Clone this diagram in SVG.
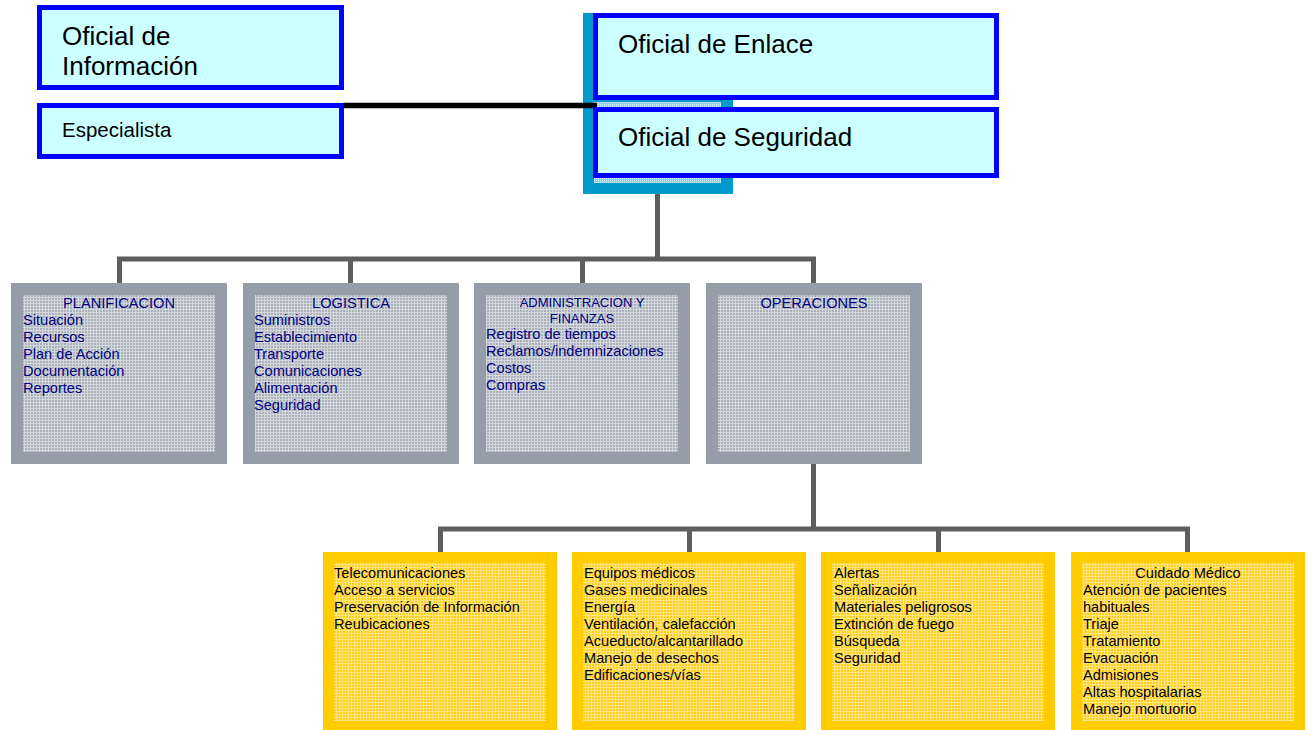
<svg xmlns="http://www.w3.org/2000/svg" width="1308" height="730" viewBox="0 0 1308 730">
<defs>
<pattern id="pg" width="3" height="3" patternUnits="userSpaceOnUse">
<rect width="3" height="3" fill="#A9B1BA"/>
<rect width="3" height="1" fill="#D4D8DD"/>
<rect width="1" height="3" fill="#D4D8DD"/>
</pattern>
<pattern id="py" width="3" height="3" patternUnits="userSpaceOnUse">
<rect width="3" height="3" fill="#FFD01A"/>
<rect width="3" height="1" fill="#FFE584"/>
<rect width="1" height="3" fill="#FFE584"/>
</pattern>
<pattern id="pc" width="2" height="2" patternUnits="userSpaceOnUse">
<rect width="2" height="2" fill="#8FD3EA"/>
<rect width="1" height="1" fill="#D6F2FA"/>
</pattern>
</defs>
<style>
text{font-family:"Liberation Sans",Arial,sans-serif}
.bx{fill:#CCFFFF;stroke:#0000FF;stroke-width:5}
.big{font-size:26px;fill:#000}
.gout{fill:#959EA8}
.gin{fill:url(#pg)}
.yout{fill:#FFCC00}
.yin{fill:url(#py)}
.gt{font-size:14.6px;fill:#000080}
.yt{font-size:14.6px;fill:#000}
.mid{text-anchor:middle}
.con{fill:none;stroke:#5E5E5E;stroke-width:5}
</style>
<rect width="1308" height="730" fill="#FFFFFF"/>

<g id="command-back">
<rect x="583" y="13" width="150" height="181" fill="#0099CC"/>
<rect x="594" y="102" width="127" height="5" fill="url(#pc)"/>
<rect x="594" y="178" width="127" height="5" fill="url(#pc)"/>
</g>

<g id="connectors">
<line x1="343" y1="105.5" x2="597" y2="105.5" stroke="#000" stroke-width="5.5"/>
<path class="con" d="M657.5,194 V259"/>
<path class="con" d="M119.5,283 V259 H813.5 V283"/>
<path class="con" d="M350.5,259 V283"/>
<path class="con" d="M582.5,259 V283"/>
<path class="con" d="M813.5,464 V529"/>
<path class="con" d="M440.5,552 V529 H1187.5 V552"/>
<path class="con" d="M689.5,529 V552"/>
<path class="con" d="M938.5,529 V552"/>
</g>

<g id="oficial-informacion">
<rect class="bx" x="39.5" y="7.5" width="302" height="80"/>
<text class="big" x="62" y="45">Oficial de</text>
<text class="big" x="62" y="75">Información</text>
</g>

<g id="especialista">
<rect class="bx" x="39.5" y="105.5" width="302" height="51"/>
<text x="62" y="137" font-size="20.5" fill="#000">Especialista</text>
</g>

<g id="oficial-enlace">
<rect class="bx" x="595.5" y="15.5" width="401" height="82"/>
<text class="big" x="618" y="53">Oficial de Enlace</text>
</g>

<g id="oficial-seguridad">
<rect class="bx" x="595.5" y="109.5" width="401" height="66"/>
<text class="big" x="618" y="146">Oficial de Seguridad</text>
</g>

<g id="planificacion">
<rect class="gout" x="11" y="283" width="216" height="181"/>
<rect class="gin" x="23" y="295" width="192" height="157"/>
<text class="gt mid" x="119" y="308">PLANIFICACION</text>
<text class="gt" x="23" y="325">Situación</text>
<text class="gt" x="23" y="342">Recursos</text>
<text class="gt" x="23" y="359">Plan de Acción</text>
<text class="gt" x="23" y="376">Documentación</text>
<text class="gt" x="23" y="393">Reportes</text>
</g>

<g id="logistica">
<rect class="gout" x="243" y="283" width="216" height="181"/>
<rect class="gin" x="255" y="295" width="192" height="157"/>
<text class="gt mid" x="351" y="308">LOGISTICA</text>
<text class="gt" x="254" y="325">Suministros</text>
<text class="gt" x="254" y="342">Establecimiento</text>
<text class="gt" x="254" y="359">Transporte</text>
<text class="gt" x="254" y="376">Comunicaciones</text>
<text class="gt" x="254" y="393">Alimentación</text>
<text class="gt" x="254" y="410">Seguridad</text>
</g>

<g id="administracion">
<rect class="gout" x="474" y="283" width="216" height="181"/>
<rect class="gin" x="486" y="295" width="192" height="157"/>
<text class="mid" x="582" y="307" font-size="13" fill="#000080">ADMINISTRACION Y</text>
<text class="mid" x="582" y="323" font-size="13" fill="#000080">FINANZAS</text>
<text class="gt" x="486" y="339">Registro de tiempos</text>
<text class="gt" x="486" y="356">Reclamos/indemnizaciones</text>
<text class="gt" x="486" y="373">Costos</text>
<text class="gt" x="486" y="390">Compras</text>
</g>

<g id="operaciones">
<rect class="gout" x="706" y="283" width="216" height="181"/>
<rect class="gin" x="718" y="295" width="192" height="157"/>
<text class="gt mid" x="814" y="308">OPERACIONES</text>
</g>

<g id="ops-1">
<rect class="yout" x="323" y="552" width="234" height="178"/>
<rect class="yin" x="334" y="563" width="212" height="158"/>
<text class="yt" x="334" y="578">Telecomunicaciones</text>
<text class="yt" x="334" y="595">Acceso a servicios</text>
<text class="yt" x="334" y="612">Preservación de Información</text>
<text class="yt" x="334" y="629">Reubicaciones</text>
</g>

<g id="ops-2">
<rect class="yout" x="572" y="552" width="234" height="178"/>
<rect class="yin" x="583" y="563" width="212" height="158"/>
<text class="yt" x="584" y="578">Equipos médicos</text>
<text class="yt" x="584" y="595">Gases medicinales</text>
<text class="yt" x="584" y="612">Energía</text>
<text class="yt" x="584" y="629">Ventilación, calefacción</text>
<text class="yt" x="584" y="646">Acueducto/alcantarillado</text>
<text class="yt" x="584" y="663">Manejo de desechos</text>
<text class="yt" x="584" y="680">Edificaciones/vías</text>
</g>

<g id="ops-3">
<rect class="yout" x="821" y="552" width="234" height="178"/>
<rect class="yin" x="832" y="563" width="212" height="158"/>
<text class="yt" x="834" y="578">Alertas</text>
<text class="yt" x="834" y="595">Señalización</text>
<text class="yt" x="834" y="612">Materiales peligrosos</text>
<text class="yt" x="834" y="629">Extinción de fuego</text>
<text class="yt" x="834" y="646">Búsqueda</text>
<text class="yt" x="834" y="663">Seguridad</text>
</g>

<g id="ops-4">
<rect class="yout" x="1071" y="552" width="234" height="178"/>
<rect class="yin" x="1082" y="563" width="212" height="158"/>
<text class="yt mid" x="1188" y="578">Cuidado Médico</text>
<text class="yt" x="1083" y="595">Atención de pacientes</text>
<text class="yt" x="1083" y="612">habituales</text>
<text class="yt" x="1083" y="629">Triaje</text>
<text class="yt" x="1083" y="646">Tratamiento</text>
<text class="yt" x="1083" y="663">Evacuación</text>
<text class="yt" x="1083" y="680">Admisiones</text>
<text class="yt" x="1083" y="697">Altas hospitalarias</text>
<text class="yt" x="1083" y="714">Manejo mortuorio</text>
</g>
</svg>
